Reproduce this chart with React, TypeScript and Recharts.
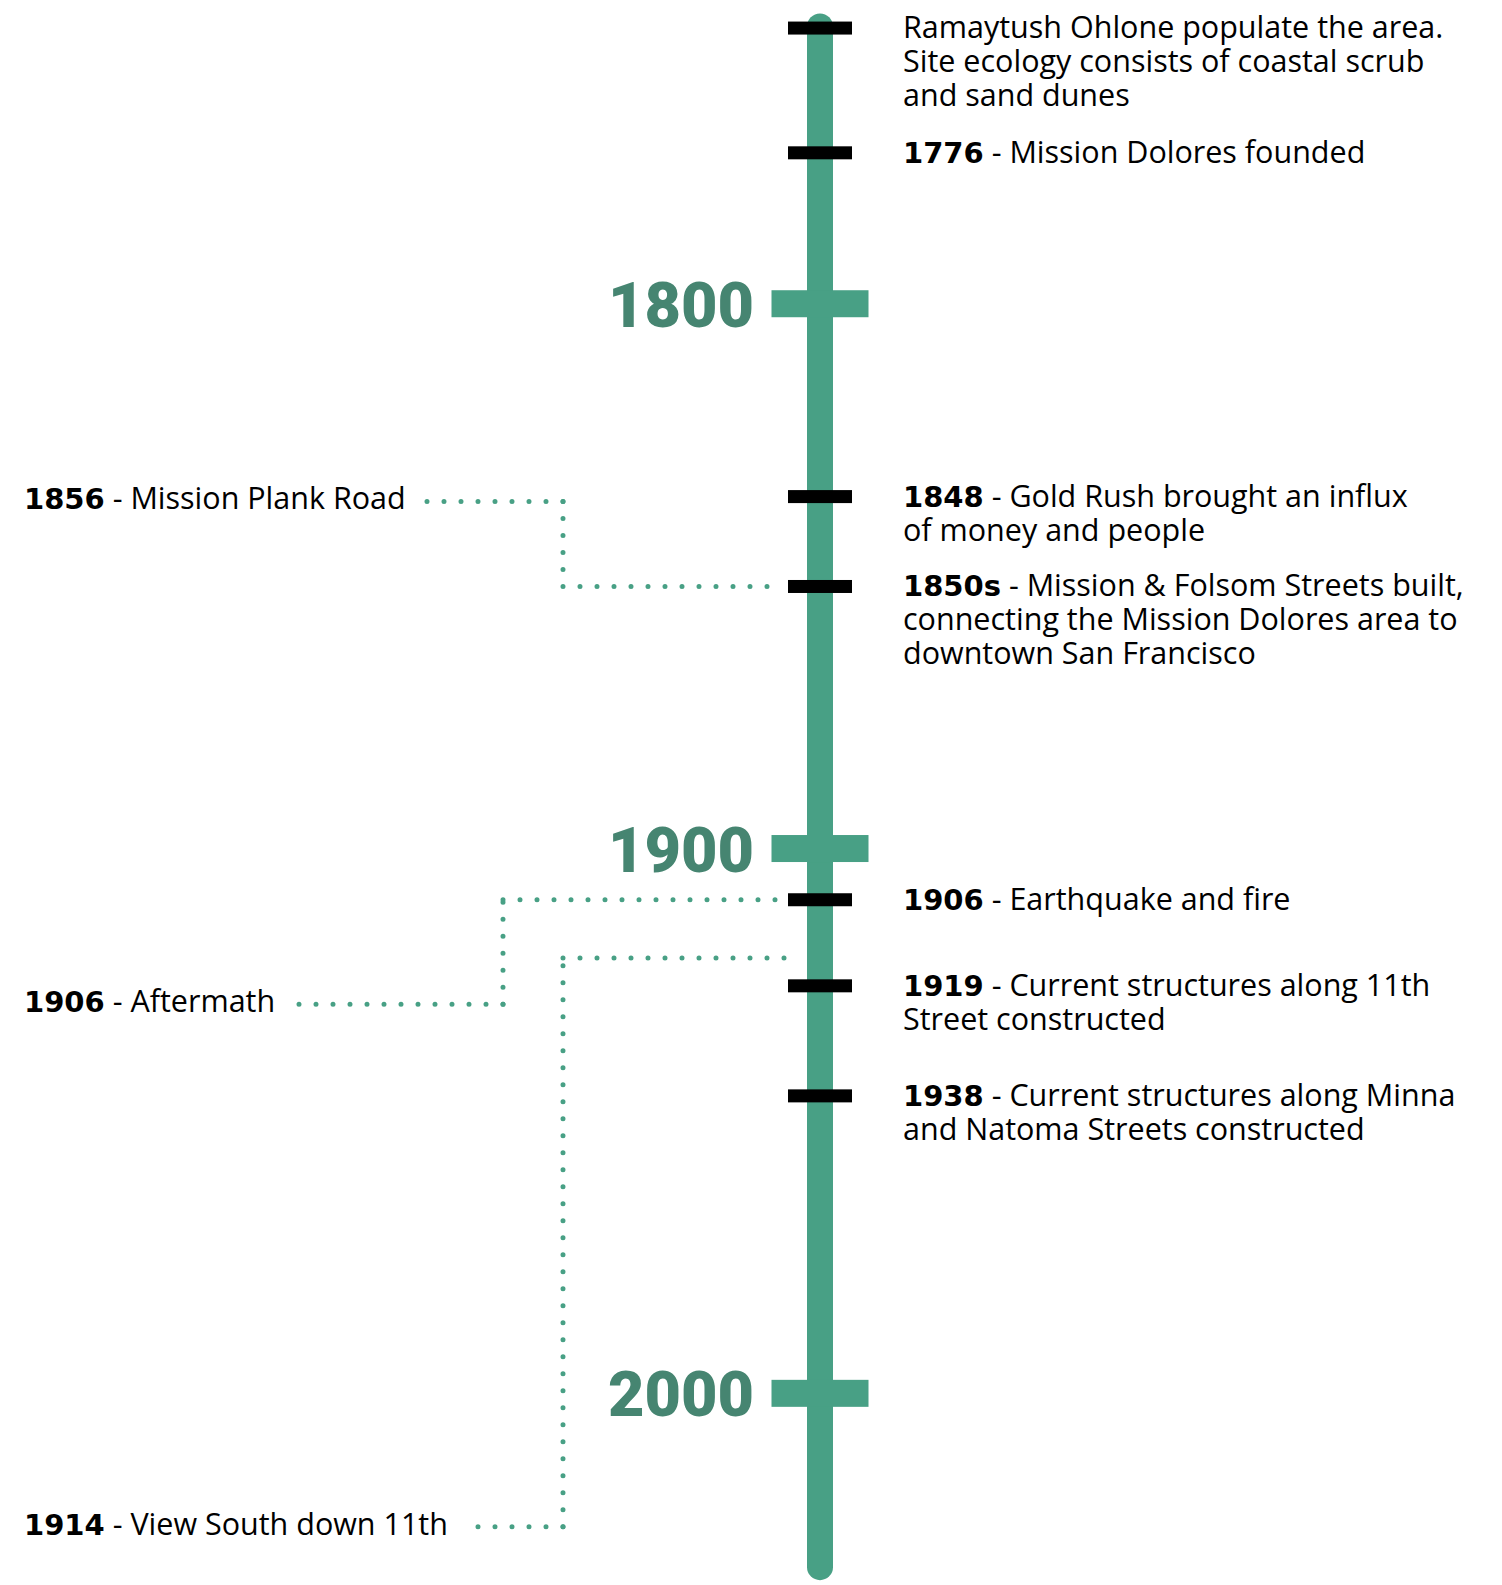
import React from "react";
import { ComposedChart, XAxis, YAxis, Scatter } from "recharts";

// timeline positions (years of the drawn scale)
const centuries = [1800, 1900, 2000];
const lineSpan = [1749.1, 2031.9];

const eventPos = [1749.4, 1772.3, 1835.4, 1851.9, 1909.4, 1925.2, 1945.4];
const eventYear = ["", "1776", "1848", "1850s", "1906", "1919", "1938"];
const eventText = [
    ["Ramaytush Ohlone populate the area.", "Site ecology consists of coastal scrub", "and sand dunes"],
    ["Mission Dolores founded"],
    ["Gold Rush brought an influx", "of money and people"],
    ["Mission & Folsom Streets built,", "connecting the Mission Dolores area to", "downtown San Francisco"],
    ["Earthquake and fire"],
    ["Current structures along 11th", "Street constructed"],
    ["Current structures along Minna", "and Natoma Streets constructed"],
];

// photo notes on the left, each tied to a point on the line
const noteYear = ["1856", "1906", "1914"];
const noteText = ["Mission Plank Road", "Aftermath", "View South down 11th"];
const notePos = [1836.3, 1928.6, 2024.5];
const noteTarget = [1851.9, 1909.4, 1920.1];

// layout
const W = 1502;
const H = 1585;
const Y_DOMAIN = [1744.25, 2035.18];
const LINE_X = 820;
const TEXT_X = 903;
const NOTE_X = 24;
const noteDotStart = [426, 286, 464];
const noteElbow = [563, 503, 563];
const noteDotEnd = [780, 780, 795];

const GREEN = "#48a085";
const GREEN_DARK = "#468571";
const BODY_FONT = "'Open Sans', sans-serif";
const BOLD_FONT = "'DejaVu Sans', sans-serif";
const BODY_SIZE = 30.5;
const LINE_GAP = 34;

const Empty = () => <g />;

const EventMark = (props: any) => {
    const { cx, cy, payload } = props;
    const i = payload.i;
    const year = eventYear[i];
    return (
        <g>
            <rect x={cx - 32} y={cy - 6.5} width={64} height={13} fill="#000" />
            {eventText[i].map((line, k) => (
                <text
                    key={k}
                    x={TEXT_X}
                    y={cy + 10 + k * LINE_GAP}
                    fontFamily={BODY_FONT}
                    fontSize={BODY_SIZE}
                    fill="#000"
                >
                    {k === 0 && year ? (
                        <tspan fontFamily={BOLD_FONT} fontWeight={700} fontSize={29}>
                            {year}
                        </tspan>
                    ) : null}
                    {k === 0 && year ? " - " + line : line}
                </text>
            ))}
        </g>
    );
};

const CenturyMark = (props: any) => {
    const { cx, cy, payload } = props;
    return (
        <g>
            <rect x={cx - 48.5} y={cy - 13.5} width={97} height={27} fill={GREEN} />
            <text
                x={cx - 66}
                y={cy + 23}
                textAnchor="end"
                fontFamily="Roboto, sans-serif"
                fontWeight={900}
                fontSize={63}
                fill={GREEN_DARK}
            >
                {payload.label}
            </text>
        </g>
    );
};

const NoteMark = (props: any) => {
    const { cy, payload } = props;
    const i = payload.i;
    return (
        <text x={NOTE_X} y={cy + 8} fontFamily={BODY_FONT} fontSize={BODY_SIZE} fill="#000">
            <tspan fontFamily={BOLD_FONT} fontWeight={700} fontSize={29}>
                {noteYear[i]}
            </tspan>
            {" - " + noteText[i]}
        </text>
    );
};

const dotted = {
    stroke: GREEN,
    strokeWidth: 5,
    strokeDasharray: "0 17",
    strokeLinecap: "round",
};

export default function App() {
    const eventData = eventPos.map((p, i) => ({ x: LINE_X, y: p, i }));
    const centuryData = centuries.map((c) => ({ x: LINE_X, y: c, label: String(c) }));
    const noteData = notePos.map((p, i) => ({ x: NOTE_X, y: p, i }));

    // each leg starts at its corner so a dot sits on every bend
    const legs: { x: number; y: number }[][] = [];
    notePos.forEach((p, i) => {
        legs.push([
            { x: noteElbow[i], y: p },
            { x: noteDotStart[i], y: p },
        ]);
        legs.push([
            { x: noteElbow[i], y: p },
            { x: noteElbow[i], y: noteTarget[i] },
        ]);
        legs.push([
            { x: noteElbow[i], y: noteTarget[i] },
            { x: noteDotEnd[i], y: noteTarget[i] },
        ]);
    });

    return (
        <div style={{ position: "absolute", left: 0, top: 0, width: W, height: H, background: "#fff" }}>
            <ComposedChart width={W} height={H} margin={{ top: 0, right: 0, bottom: 0, left: 0 }}>
                <XAxis type="number" dataKey="x" domain={[0, W]} allowDataOverflow hide />
                <YAxis type="number" dataKey="y" domain={Y_DOMAIN} allowDataOverflow reversed hide />
                {legs.map((leg, k) => (
                    <Scatter
                        key={`leg-${k}`}
                        data={leg}
                        line={dotted}
                        lineType="joint"
                        shape={Empty}
                        isAnimationActive={false}
                    />
                ))}
                <Scatter
                    data={lineSpan.map((p) => ({ x: LINE_X, y: p }))}
                    line={{ stroke: GREEN, strokeWidth: 26, strokeLinecap: "round" }}
                    lineType="joint"
                    shape={Empty}
                    isAnimationActive={false}
                />
                <Scatter data={centuryData} shape={CenturyMark} isAnimationActive={false} />
                <Scatter data={eventData} shape={EventMark} isAnimationActive={false} />
                <Scatter data={noteData} shape={NoteMark} isAnimationActive={false} />
            </ComposedChart>
        </div>
    );
}
